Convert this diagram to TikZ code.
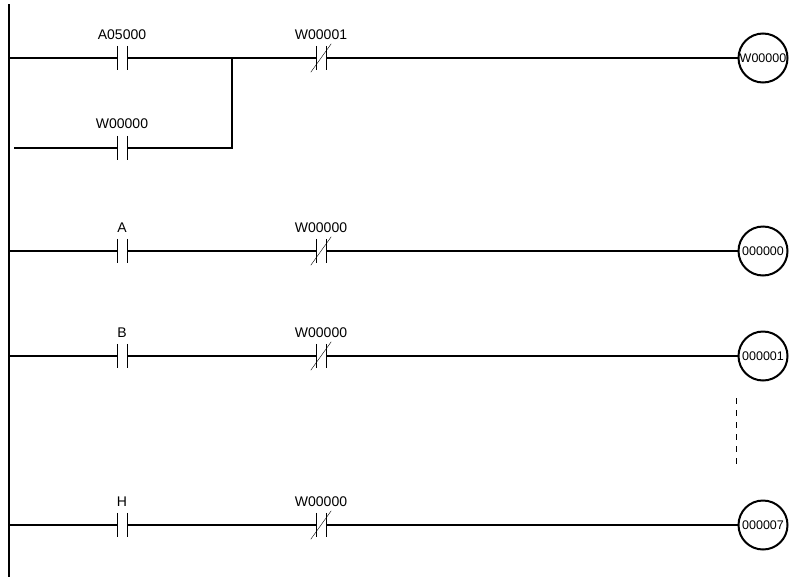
\documentclass[tikz,border=0pt]{standalone}
\usepackage{fontspec}
\setmainfont{Liberation Sans}
\tikzset{
  wire/.style={line width=2pt},
  no/.style={minimum width=10pt, minimum height=24pt, inner sep=0pt,
    append after command={[line width=2pt]
      (\tikzlastnode.north west) edge (\tikzlastnode.south west)
      (\tikzlastnode.north east) edge (\tikzlastnode.south east)}},
  nc/.style={no, append after command={[line width=1.8pt]
      ([xshift=-5pt,yshift=-2pt]\tikzlastnode.south west) edge ([xshift=5pt,yshift=2pt]\tikzlastnode.north east)}},
  coil/.style={circle, draw, line width=2pt, minimum size=49pt, inner sep=0pt, font=\fontsize{12.5}{14}\selectfont},
  lbl/.style={font=\fontsize{14}{16}\selectfont}
}
\begin{document}
\begin{tikzpicture}[x=1pt,y=-1pt]
  \useasboundingbox (0,0) rectangle (789,581);
  % left rail
  \draw[wire] (9,4) -- (9,577);

  % rung 1 with holding branch
  \node[no] (c1) at (122,58) {};
  \node[lbl] at (122,35) {A05000};
  \node[no] (c2) at (122,148) {};
  \node[lbl] at (122,124) {W00000};
  \coordinate (j1) at (232,58);
  \node[nc] (n1) at (321,58) {};
  \node[lbl] at (321,35) {W00001};
  \node[coil] (q1) at (763,58) {W00000};
  \draw[wire] (9,58) -- (c1.west) (c1.east) -- (j1) -- (n1.west) (n1.east) -- (q1.west);
  \draw[wire] (14,148) -- (c2.west) (c2.east) -- (j1 |- c2) -- (j1);

  % rungs with inputs A, B, H
  \foreach \y/\a/\q in {251/A/000000, 356/B/000001, 525/H/000007}{
    \node[no] (c\q) at (122,\y) {};
    \node[lbl] at (122,\y-23) {\a};
    \node[nc] (n\q) at (321,\y) {};
    \node[lbl] at (321,\y-23) {W00000};
    \node[coil] (q\q) at (763,\y) {\q};
    \draw[wire] (9,\y) -- (c\q.west) (c\q.east) -- (n\q.west) (n\q.east) -- (q\q.west);
  }

  % omitted rungs
  \draw[line width=1pt, dash pattern=on 6pt off 6pt] (736,398) -- (736,468);
\end{tikzpicture}
\end{document}
